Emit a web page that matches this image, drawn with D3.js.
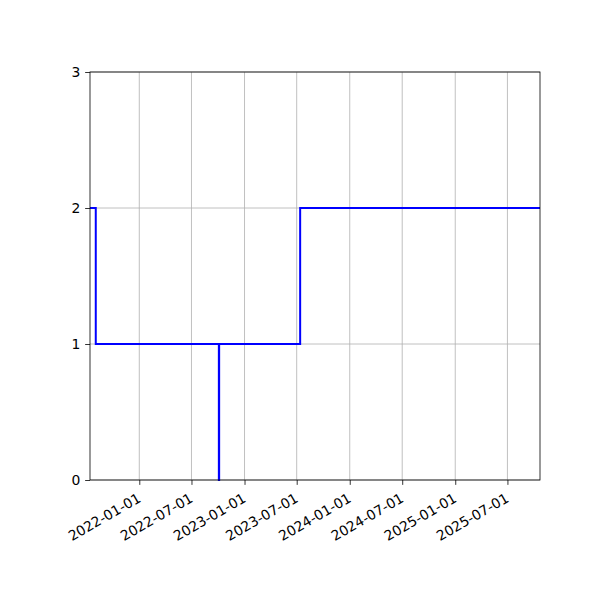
<!DOCTYPE html>
<html>
<head>
<meta charset="utf-8">
<script src="https://cdn.jsdelivr.net/npm/d3@7"></script>
<style>
  html, body { margin: 0; padding: 0; background: #fff; }
  svg { display: block; }
  text { font-family: "DejaVu Sans", sans-serif; }
</style>
</head>
<body>
<script>
// Data
const dates  = ["2021-07-14", "2021-08-03", "2022-10-04", "2022-10-05", "2023-07-13", "2025-10-22"];
const values = [2, 1, 0, 1, 2, 2];
const xTickLabels = ["2022-01-01", "2022-07-01", "2023-01-01", "2023-07-01",
                     "2024-01-01", "2024-07-01", "2025-01-01", "2025-07-01"];
const yTicks = [0, 1, 2, 3];

const W = 600, H = 600;
const margin = { left: 90, right: 60, top: 72, bottom: 120 };
const iw = W - margin.left - margin.right;
const ih = H - margin.top - margin.bottom;

const parse = d3.utcParse("%Y-%m-%d");
const data = dates.map((d, i) => ({ t: parse(d), v: values[i] }));

const svg = d3.select("body").append("svg").attr("width", W).attr("height", H);
const g = svg.append("g").attr("transform", `translate(${margin.left},${margin.top})`);

const x = d3.scaleUtc().domain([parse(dates[0]), parse(dates[dates.length - 1])]).range([0, iw]);
const y = d3.scaleLinear().domain([0, 3]).range([ih, 0]);

const xTicks = xTickLabels.map(parse);
const tickLen = 4.86;
const fs = 13.9;

// Grid
g.append("g").selectAll("line").data(xTicks).join("line")
  .attr("x1", d => x(d)).attr("x2", d => x(d)).attr("y1", 0).attr("y2", ih)
  .attr("stroke", "#b0b0b0").attr("stroke-width", 0.8);
g.append("g").selectAll("line").data(yTicks).join("line")
  .attr("x1", 0).attr("x2", iw).attr("y1", d => y(d)).attr("y2", d => y(d))
  .attr("stroke", "#b0b0b0").attr("stroke-width", 0.8);

// Line
svg.append("clipPath").attr("id", "clip").append("rect")
  .attr("x", 0).attr("y", -2).attr("width", iw).attr("height", ih + 4);
const line = d3.line().x(d => x(d.t)).y(d => y(d.v)).curve(d3.curveStepAfter);
g.append("path").datum(data).attr("d", line)
  .attr("fill", "none").attr("stroke", "#0000ff").attr("stroke-width", 2)
  .attr("clip-path", "url(#clip)");

// Axes
const xAxis = d3.axisBottom(x).tickValues(xTicks).tickFormat(d3.utcFormat("%Y-%m-%d"))
  .tickSize(tickLen).tickPadding(4.86);
const gx = g.append("g").attr("transform", `translate(0,${ih})`).call(xAxis);
gx.select(".domain").remove();
gx.selectAll(".tick line").attr("stroke", "#000").attr("stroke-width", 0.8);
gx.selectAll(".tick text")
  .attr("font-size", fs).attr("fill", "#000")
  .attr("text-anchor", "end")
  .attr("dy", null).attr("y", 0).attr("x", 0)
  .attr("transform", "translate(2,21) rotate(-30)");

const yAxis = d3.axisLeft(y).tickValues(yTicks).tickFormat(d3.format("d"))
  .tickSize(tickLen).tickPadding(4.86);
const gy = g.append("g").call(yAxis);
gy.select(".domain").remove();
gy.selectAll(".tick line").attr("stroke", "#000").attr("stroke-width", 0.8);
gy.selectAll(".tick text").attr("font-size", fs).attr("fill", "#000");

// Spines
g.append("rect").attr("x", 0).attr("y", 0).attr("width", iw).attr("height", ih)
  .attr("fill", "none").attr("stroke", "#000").attr("stroke-width", 0.8);
</script>
</body>
</html>
